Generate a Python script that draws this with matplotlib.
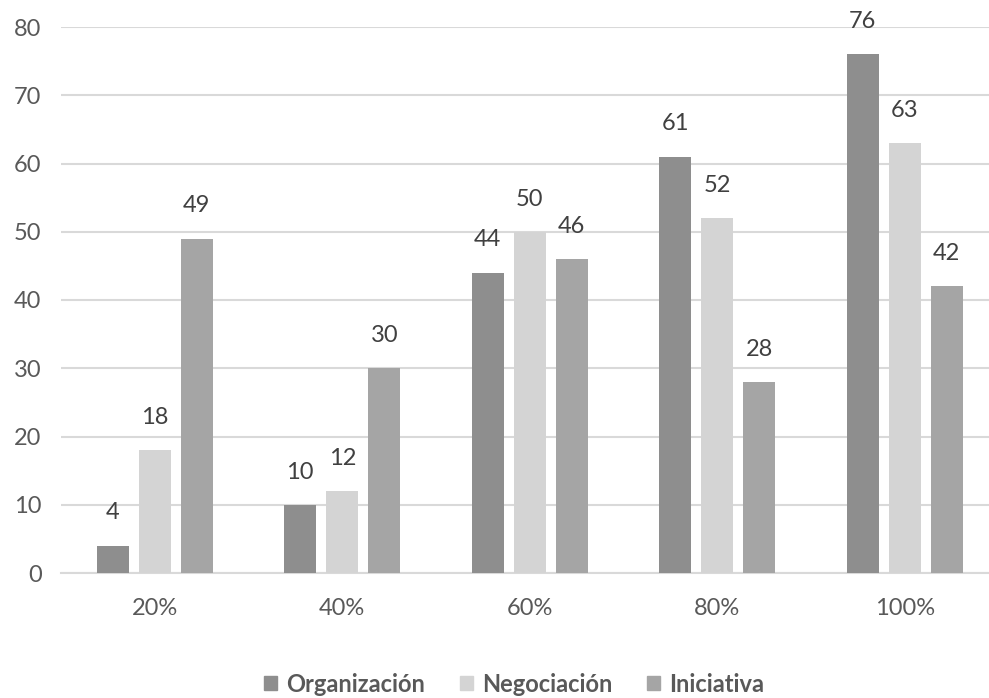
import matplotlib
matplotlib.use("Agg")
import matplotlib.pyplot as plt
from matplotlib.patches import Patch
import numpy as np

categories = ["20%", "40%", "60%", "80%", "100%"]
organizacion = [4, 10, 44, 61, 76]
negociacion = [18, 12, 50, 52, 63]
iniciativa = [49, 30, 46, 28, 42]

series = [
    ("Organización", organizacion, "#8e8e8e"),
    ("Negociación", negociacion, "#d4d4d4"),
    ("Iniciativa", iniciativa, "#a5a5a5"),
]

plt.rcParams["font.family"] = ["Lato", "DejaVu Sans"]
text_color = "#595959"

fig = plt.figure(figsize=(9.89, 6.98), dpi=100)
ax = fig.add_axes([61 / 989, 125 / 698, 937.5 / 989, 546 / 698])

x = np.arange(len(categories))
width = 0.17
step = 0.224
for i, (name, vals, color) in enumerate(series):
    pos = x + (i - 1) * step
    bars = ax.bar(pos, vals, width, color=color, label=name, zorder=3)
    for b, v in zip(bars, vals):
        ax.annotate(str(v), (b.get_x() + b.get_width() / 2, v),
                    xytext=(0, 16), textcoords="offset points",
                    ha="center", va="bottom", fontsize=17, color="#404040")

ax.set_xlim(-0.5, len(categories) - 0.5)
ax.set_ylim(0, 80)
ax.set_yticks(range(0, 81, 10))
ax.set_xticks(x)
ax.set_xticklabels(categories)
ax.tick_params(axis="both", length=0, labelsize=17, colors=text_color)
ax.tick_params(axis="x", pad=18)
ax.tick_params(axis="y", pad=14)
ax.grid(axis="y", color="#d9d9d9", linewidth=1.5, zorder=0)
for s in ["top", "right", "left"]:
    ax.spines[s].set_visible(False)
ax.spines["bottom"].set_color("#d9d9d9")
ax.spines["bottom"].set_linewidth(1.5)

handles = [Patch(color=c, label=n) for n, _, c in series]
leg = fig.legend(handles=handles, loc="center", bbox_to_anchor=(514 / 989, 14 / 698),
                 ncol=3, frameon=False, handlelength=0.55, handleheight=0.55,
                 handletextpad=0.4, columnspacing=1.45,
                 prop={"size": 17, "weight": "bold"})
for t in leg.get_texts():
    t.set_color(text_color)

fig.savefig("out.png", dpi=100)
